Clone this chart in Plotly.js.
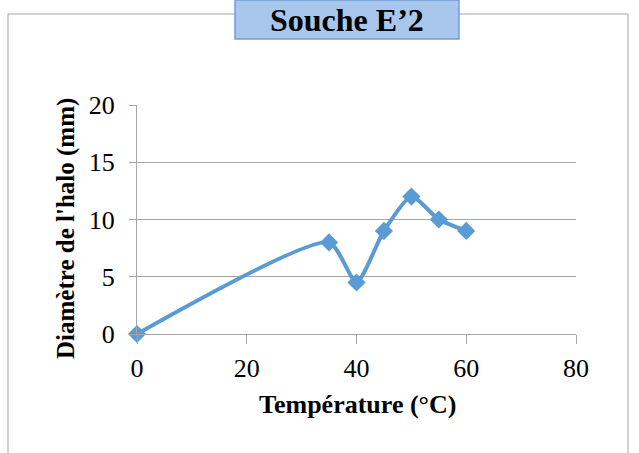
<!DOCTYPE html>
<html><head><meta charset="utf-8">
<script src="https://cdn.plot.ly/plotly-3.0.1.min.js"></script>
<style>html,body{margin:0;padding:0;background:#fff}#c{width:639px;height:453px}</style>
</head><body><div id="c"></div>
<script>
const temperature = [0, 35, 40, 45, 50, 55, 60];
const diametre = [0, 8, 4.5, 9, 12, 10, 9];
const xTickVals = [0, 20, 40, 60, 80];
const yTickVals = [0, 5, 10, 15, 20];
const chartTitle = "Souche E\u20192";
const xTitle = "Température (°C)";
const yTitle = "Diamètre de l'halo (mm)";

const L = 137, R = 63, T = 105, B = 119, W = 639 - L - R, H = 453 - T - B;
const px = v => (v - L) / W;
const py = v => (453 - B - v) / H;
const serif = "Liberation Serif, Times New Roman, serif";

Plotly.newPlot('c', [{
  x: temperature, y: diametre, type: 'scatter', mode: 'lines+markers', cliponaxis: false,
  line: {color: '#5b9bd5', width: 4, shape: 'spline', smoothing: 0.6},
  marker: {symbol: 'diamond', size: 14, color: '#5b9bd5'}
}], {
  width: 639, height: 453,
  margin: {l: L, r: R, t: T, b: B, pad: 0},
  paper_bgcolor: '#fff', plot_bgcolor: '#fff',
  showlegend: false,
  font: {family: serif, color: '#000'},
  xaxis: {range: [0, 80], tickvals: xTickVals, showgrid: false, zeroline: false,
    showline: true, linecolor: '#a6a6a6', linewidth: 1, ticks: 'outside', ticklen: 9, tickcolor: '#a6a6a6',
    ticklabelstandoff: 2,
    tickfont: {family: serif, size: 26, color: '#000'}},
  yaxis: {range: [0, 20], tickvals: yTickVals, showgrid: true, gridcolor: '#a6a6a6', gridwidth: 1,
    zeroline: false, showline: true, linecolor: '#a6a6a6', linewidth: 1, ticks: 'outside', ticklen: 7, tickcolor: '#a6a6a6',
    ticklabelstandoff: 9,
    tickfont: {family: serif, size: 26, color: '#000'}},
  shapes: [
    {type: 'rect', xref: 'paper', yref: 'paper', x0: px(8), x1: px(628), y0: py(470), y1: py(14),
     line: {color: '#a6a6a6', width: 1}, fillcolor: 'rgba(0,0,0,0)', layer: 'below'},
    {type: 'rect', xref: 'paper', yref: 'paper', x0: px(235), x1: px(459), y0: py(39), y1: py(0),
     line: {color: '#6f9fd8', width: 1.5}, fillcolor: '#a9c6ec', layer: 'above'}
  ],
  annotations: [
    {text: chartTitle, xref: 'paper', yref: 'paper', x: px(347), y: py(20), xanchor: 'center', yanchor: 'middle',
     showarrow: false, font: {family: serif, size: 32, color: '#000', weight: 'bold'}},
    {text: xTitle, xref: 'paper', yref: 'paper', x: px(357), y: py(404), xanchor: 'center', yanchor: 'middle',
     showarrow: false, font: {family: serif, size: 26, color: '#000', weight: 'bold'}},
    {text: yTitle, xref: 'paper', yref: 'paper', x: px(66), y: py(229), xanchor: 'center', yanchor: 'middle',
     textangle: -90, showarrow: false, font: {family: serif, size: 25, color: '#000', weight: 'bold'}}
  ]
}, {displayModeBar: false, staticPlot: true});
</script></body></html>
